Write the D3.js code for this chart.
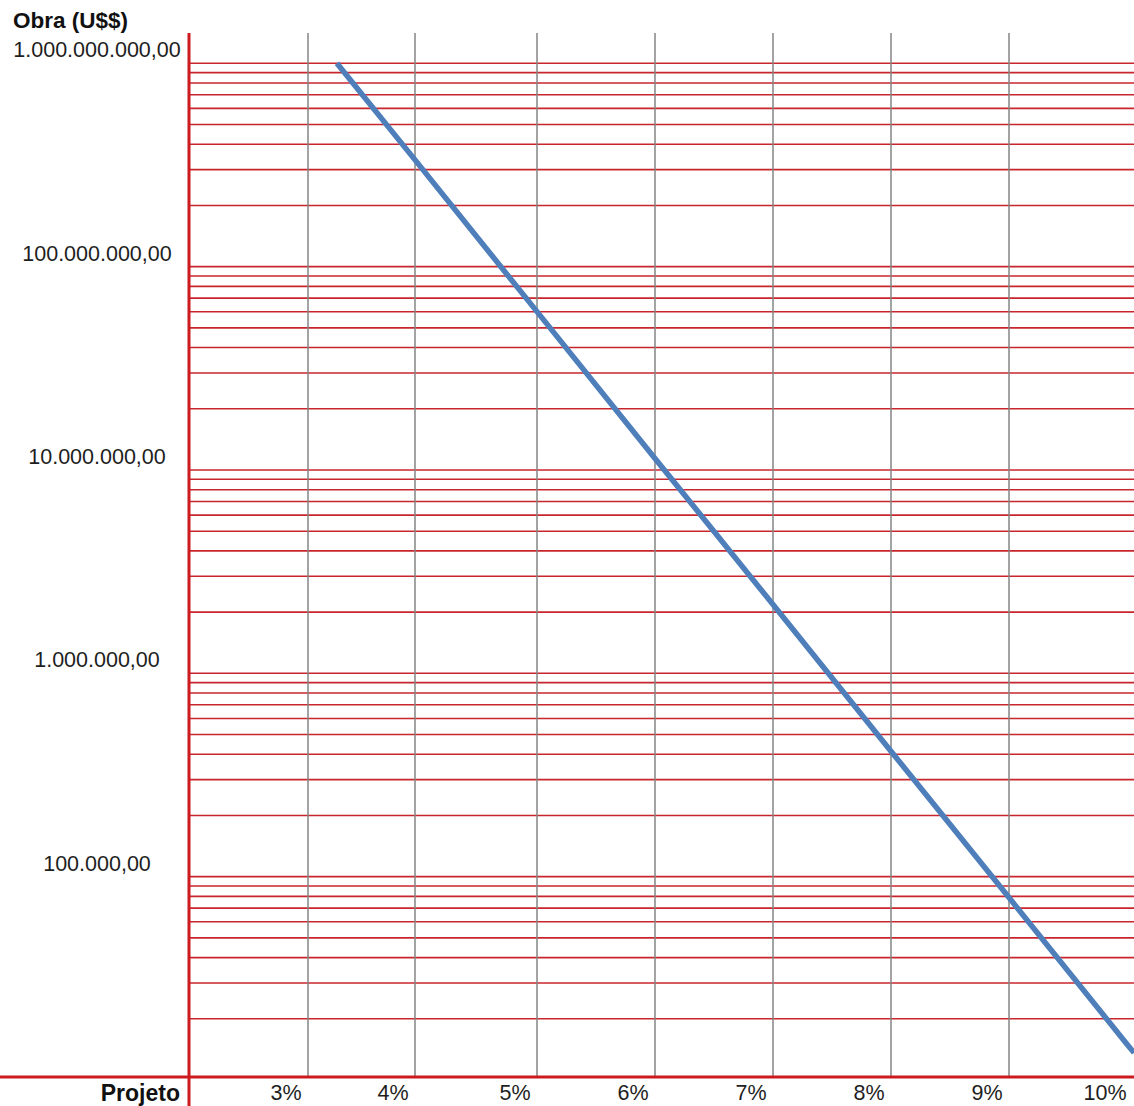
<!DOCTYPE html>
<html>
<head>
<meta charset="utf-8">
<script src="https://cdn.jsdelivr.net/npm/d3@7"></script>
<style>
  body { margin: 0; background: #fff; }
  svg { display: block; font-family: "Liberation Sans", Arial, sans-serif; }
</style>
</head>
<body>
<div id="chart"></div>
<script>
var width = 1134,
    height = 1106;

// percent categories on the x axis
var xPercents = [3, 4, 5, 6, 7, 8, 9, 10];
var xLabels = ["3%", "4%", "5%", "6%", "7%", "8%", "9%", "10%"];

// labelled decades on the y axis
var yLabelValues = [1e9, 1e8, 1e7, 1e6, 1e5];
var yLabels = ["1.000.000.000,00", "100.000.000,00", "10.000.000,00", "1.000.000,00", "100.000,00"];

// curve: project fee (%) vs construction cost (U$$)
var linePercent = [3.27, 4, 5, 6, 7, 8, 9, 10, 10.06];
var lineValue = [1e9, 3.35e8, 6.01e7, 1.14e7, 2.18e6, 4.14e5, 7.89e4, 1.50e4, 1.36e4];

var plotLeft = 189, plotRight = width, plotTop = 33, axisY = 1077;

var x = d3.scaleLinear()
    .domain([3, 4, 5, 10])
    .range([308, 415, 537, 1127]);

var y = d3.scaleLog()
    .domain([1e4, 1e9])
    .range([1080, 63.3]);

var svg = d3.select("#chart").append("svg")
    .attr("width", width)
    .attr("height", height)
    .attr("viewBox", [0, 0, width, height]);

// red horizontal grid (1..9 x 10^n)
var gridValues = y.ticks().filter(function(v) { return v > 1e4; });
svg.append("g")
  .selectAll("line")
  .data(gridValues)
  .enter().append("line")
    .attr("x1", plotLeft)
    .attr("x2", plotRight)
    .attr("y1", function(d) { return y(d); })
    .attr("y2", function(d) { return y(d); })
    .attr("stroke", "#c8262c")
    .attr("stroke-width", 1.6);

// gray vertical lines at each percent
svg.append("g")
  .selectAll("line")
  .data(xPercents.filter(function(p) { return p < 10; }))
  .enter().append("line")
    .attr("x1", function(d) { return x(d); })
    .attr("x2", function(d) { return x(d); })
    .attr("y1", plotTop)
    .attr("y2", axisY)
    .attr("stroke", "#858585")
    .attr("stroke-width", 1.5);

// blue curve
var line = d3.line()
    .x(function(d) { return x(d[0]); })
    .y(function(d) { return y(d[1]); });

svg.append("path")
    .datum(d3.zip(linePercent, lineValue))
    .attr("d", line)
    .attr("fill", "none")
    .attr("stroke", "#4f7fba")
    .attr("stroke-width", 5.5);

// red axes
svg.append("line")
    .attr("x1", 0).attr("x2", width)
    .attr("y1", axisY).attr("y2", axisY)
    .attr("stroke", "#cc1a1f")
    .attr("stroke-width", 3);

svg.append("line")
    .attr("x1", plotLeft).attr("x2", plotLeft)
    .attr("y1", plotTop).attr("y2", height)
    .attr("stroke", "#cc1a1f")
    .attr("stroke-width", 3);

// y labels
svg.append("g")
  .selectAll("text")
  .data(d3.zip(yLabelValues, yLabels))
  .enter().append("text")
    .attr("x", 97)
    .attr("y", function(d) { return y(d[0]) - 6; })
    .attr("text-anchor", "middle")
    .attr("font-size", "21.5px")
    .attr("fill", "#1e1e1e")
    .text(function(d) { return d[1]; });

// x labels
svg.append("g")
  .selectAll("text")
  .data(d3.zip(xPercents, xLabels))
  .enter().append("text")
    .attr("x", function(d) { return x(d[0]) - 22; })
    .attr("y", 1100)
    .attr("text-anchor", "middle")
    .attr("font-size", "21.5px")
    .attr("fill", "#1e1e1e")
    .text(function(d) { return d[1]; });

svg.append("text")
    .attr("x", 13)
    .attr("y", 28)
    .attr("font-size", "22.5px")
    .attr("font-weight", "bold")
    .attr("fill", "#111")
    .text("Obra (U$$)");

svg.append("text")
    .attr("x", 180)
    .attr("y", 1101)
    .attr("text-anchor", "end")
    .attr("font-size", "23px")
    .attr("font-weight", "bold")
    .attr("fill", "#111")
    .text("Projeto");
</script>
</body>
</html>
